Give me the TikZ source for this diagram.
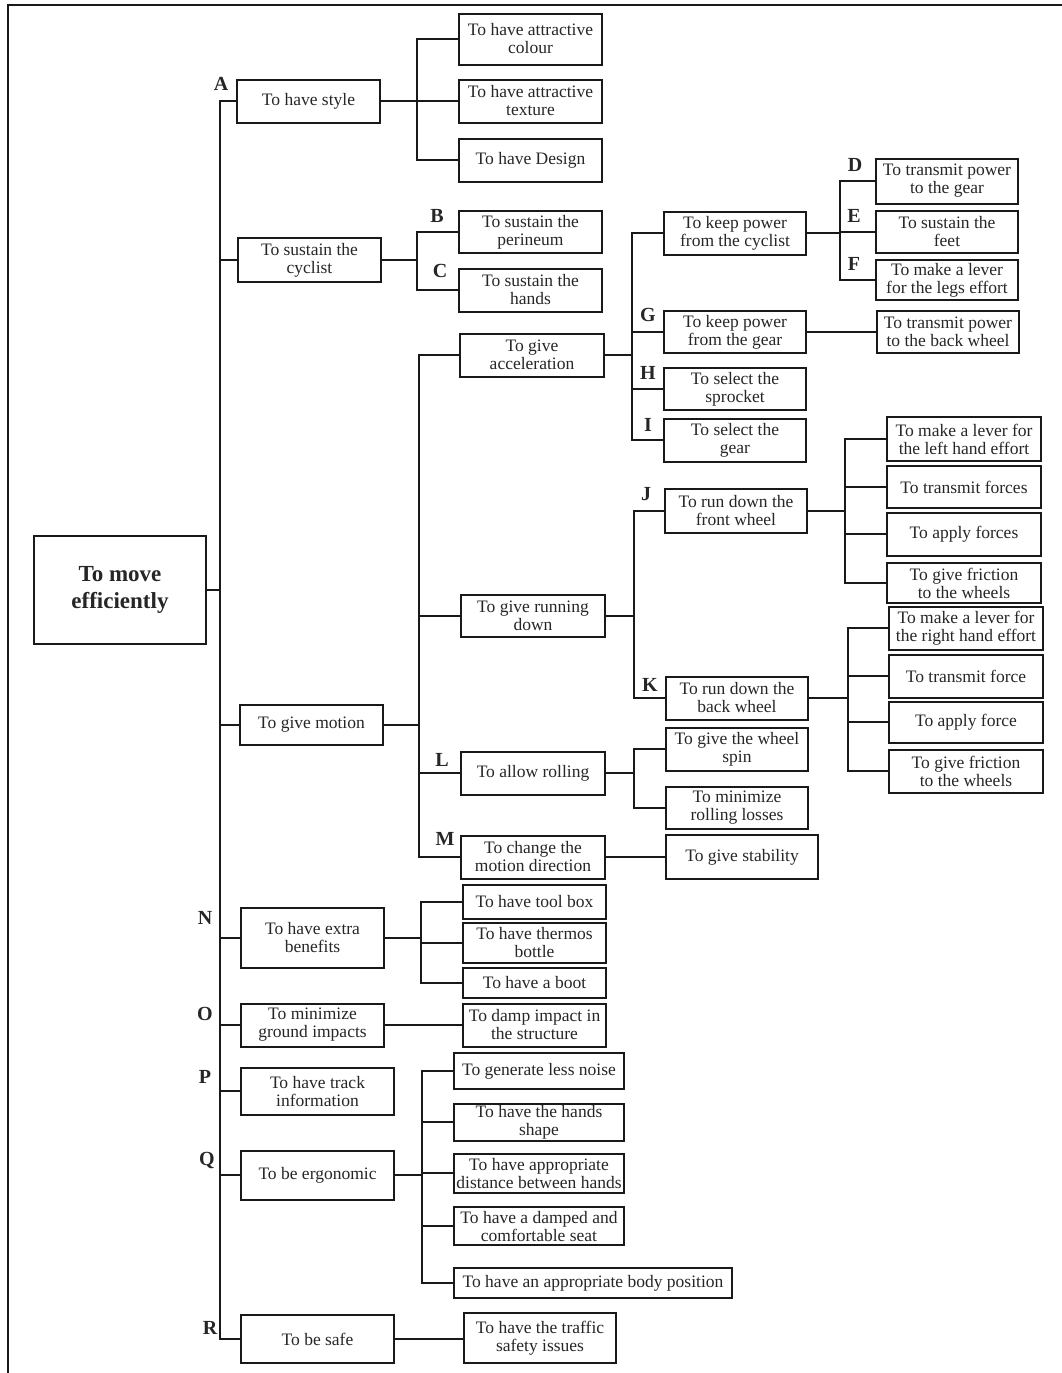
\documentclass[tikz,border=0pt]{standalone}
\usepackage{fontspec}
\setmainfont{Liberation Serif}
\tikzset{
  func/.style={draw=black!90, line width=2pt, align=center, inner sep=0pt,
    minimum width=143pt, minimum height=43pt, text=black!85,
    font=\fontsize{17.5}{18}\selectfont},
  topbox/.style={func, font=\fontsize{23}{27}\selectfont\bfseries},
  letter/.style={inner sep=0pt, text=black!85, font=\fontsize{20}{20}\selectfont\bfseries},
  link/.style={draw=black!90, line width=1.7pt}
}
\begin{document}
\begin{tikzpicture}[x=1pt,y=-1pt]
\useasboundingbox (0,0) rectangle (1062,1373);
% page frame
\draw[line width=2pt, black!90] (8,1373) -- (8,5) -- (1062,5);

% root
\node[topbox, minimum width=172pt, minimum height=108pt] (root) at (120,590) {To move\\efficiently};

% first level
\node[func] (style) at (308.5,101) {To have style};
\node[func, minimum height=44pt] (sustain) at (309.5,260) {To sustain the\\cyclist};
\node[func, minimum height=40pt] (motion) at (311.5,725) {To give motion};
\node[func, minimum height=60pt] (extra) at (312.5,938) {To have extra\\benefits};
\node[func] (ground) at (312.5,1025) {To minimize\\ground impacts};
\node[func, minimum width=153pt, minimum height=47pt] (track) at (317.5,1091) {To have track\\information};
\node[func, minimum width=153pt, minimum height=49pt] (ergo) at (317.5,1175) {To be ergonomic};
\node[func, minimum width=153pt, minimum height=48pt] (safe) at (317.5,1339) {To be safe};

% second level
\node[func, minimum height=51pt] (colour) at (530.5,39) {To have attractive\\colour};
\node[func] (texture) at (530.5,101) {To have attractive\\texture};
\node[func] (design) at (530.5,160) {To have Design};
\node[func, minimum height=42pt] (perineum) at (530.5,232) {To sustain the\\perineum};
\node[func] (hands) at (530.5,290) {To sustain the\\hands};
\node[func, minimum width=144pt] (accel) at (532,355) {To give\\acceleration};
\node[func, minimum width=144pt, minimum height=42pt] (running) at (533,616) {To give running\\down};
\node[func, minimum width=144pt] (rolling) at (533,773) {To allow rolling};
\node[func, minimum width=144pt] (direction) at (533,857) {To change the\\motion direction};
\node[func, minimum height=34pt] (toolbox) at (534.5,902) {To have tool box};
\node[func, minimum height=40pt] (thermos) at (534.5,943) {To have thermos\\bottle};
\node[func, minimum height=30pt] (boot) at (534.5,983) {To have a boot};
\node[func] (damp) at (534.5,1025) {To damp impact in\\the structure};
\node[func, minimum width=170pt, minimum height=36pt] (noise) at (539,1071) {To generate less noise};
\node[func, minimum width=170pt, minimum height=37pt] (shape) at (539,1122) {To have the hands\\shape};
\node[func, minimum width=170pt, minimum height=39pt] (distance) at (539,1173) {To have appropriate\\distance between hands};
\node[func, minimum width=170pt, minimum height=38pt] (seat) at (539,1226) {To have a damped and\\comfortable seat};
\node[func, minimum width=278pt, minimum height=30pt] (body) at (593,1283) {To have an appropriate body position};
\node[func, minimum width=152pt, minimum height=50pt] (traffic) at (540,1338) {To have the traffic\\safety issues};

% third level
\node[func, minimum width=142pt] (cyclist) at (735,233) {To keep power\\from the cyclist};
\node[func, minimum width=142pt, minimum height=42pt] (gear) at (735,332) {To keep power\\from the gear};
\node[func, minimum width=142pt, minimum height=42pt] (sprocket) at (735,389) {To select the\\sprocket};
\node[func, minimum width=142pt] (select) at (735,440) {To select the\\gear};
\node[func, minimum width=142pt, minimum height=44pt] (front) at (736,511) {To run down the\\front wheel};
\node[func, minimum width=142pt] (back) at (737,698) {To run down the\\back wheel};
\node[func, minimum width=142pt] (spin) at (737,749) {To give the wheel\\spin};
\node[func, minimum width=142pt, minimum height=42pt] (losses) at (737,808) {To minimize\\rolling losses};
\node[func, minimum width=152pt, minimum height=44pt] (stability) at (742,857) {To give stability};

% fourth level
\node[func, minimum width=142pt, minimum height=45pt] (powergear) at (947,181) {To transmit power\\to the gear};
\node[func, minimum width=142pt, minimum height=42pt] (feet) at (947,232) {To sustain the\\feet};
\node[func, minimum width=142pt, minimum height=40pt] (legs) at (947,280) {To make a lever\\for the legs effort};
\node[func, minimum width=142pt, minimum height=42pt] (backwheel) at (948,332) {To transmit power\\to the back wheel};
\node[func, minimum width=154pt, minimum height=44pt] (lefthand) at (964,439) {To make a lever for\\the left hand effort};
\node[func, minimum width=154pt, minimum height=42pt] (forcesJ) at (964,487) {To transmit forces};
\node[func, minimum width=154pt] (applyJ) at (964,534) {To apply forces};
\node[func, minimum width=154pt, minimum height=40pt] (frictionJ) at (964,583) {To give friction\\to the wheels};
\node[func, minimum width=154pt] (righthand) at (966,628) {To make a lever for\\the right hand effort};
\node[func, minimum width=154pt] (forceK) at (966,676) {To transmit force};
\node[func, minimum width=154pt, minimum height=41pt] (applyK) at (966,722) {To apply force};
\node[func, minimum width=154pt] (frictionK) at (966,771) {To give friction\\to the wheels};

% branch columns
\coordinate (xM) at (220,0);
\coordinate (xA) at (417,0);
\coordinate (xG) at (419,0);
\coordinate (xC) at (632,0);
\coordinate (xP) at (840,0);
\coordinate (xR) at (634,0);
\coordinate (xJ) at (845,0);
\coordinate (xK) at (848,0);
\coordinate (xN) at (421,0);
\coordinate (xQ) at (422,0);

% root connectors
\draw[link] (root.east) -- (root.east -| xM);
\draw[link] (root.east -| xM) |- (style.west) (root.east -| xM) |- (sustain.west)
	(root.east -| xM) |- (motion.west) (root.east -| xM) |- (extra.west)
	(root.east -| xM) |- (ground.west) (root.east -| xM) |- (track.west)
	(root.east -| xM) |- (ergo.west) (root.east -| xM) |- (safe.west);

% style and sustain
\draw[link] (style.east) -- (texture.west)
	(style.east -| xA) |- (colour.west) (style.east -| xA) |- (design.west);
\draw[link] (sustain.east) -- (sustain.east -| xA) |- (perineum.west)
	(sustain.east -| xA) |- (hands.west);

% motion
\draw[link] (motion.east) -- (motion.east -| xG) |- (accel.west)
	(motion.east -| xG) |- (running.west) (motion.east -| xG) |- (rolling.west)
	(motion.east -| xG) |- (direction.west);
\draw[link] (accel.east) -- (accel.east -| xC) |- (cyclist.west)
	(accel.east -| xC) |- (gear.west) (accel.east -| xC) |- (sprocket.west)
	(accel.east -| xC) |- (select.west);
\draw[link] (cyclist.east) -- (cyclist.east -| xP) |- (powergear.west)
	(cyclist.east -| xP) |- (feet.west) (cyclist.east -| xP) |- (legs.west);
\draw[link] (gear.east) -- (backwheel.west);
\draw[link] (running.east) -- (running.east -| xR) |- (front.west)
	(running.east -| xR) |- (back.west);
\draw[link] (front.east) -- (front.east -| xJ) |- (lefthand.west)
	(front.east -| xJ) |- (forcesJ.west) (front.east -| xJ) |- (applyJ.west)
	(front.east -| xJ) |- (frictionJ.west);
\draw[link] (back.east) -- (back.east -| xK) |- (righthand.west)
	(back.east -| xK) |- (forceK.west) (back.east -| xK) |- (applyK.west)
	(back.east -| xK) |- (frictionK.west);
\draw[link] (rolling.east) -- (rolling.east -| xR) |- (spin.west)
	(rolling.east -| xR) |- (losses.west);
\draw[link] (direction.east) -- (stability.west);

% extras, impacts, ergonomics, safety
\draw[link] (extra.east) -- (extra.east -| xN) |- (toolbox.west)
	(extra.east -| xN) |- (thermos.west) (extra.east -| xN) |- (boot.west);
\draw[link] (ground.east) -- (damp.west);
\draw[link] (ergo.east) -- (ergo.east -| xQ) |- (noise.west)
	(ergo.east -| xQ) |- (shape.west) (ergo.east -| xQ) |- (distance.west)
	(ergo.east -| xQ) |- (seat.west) (ergo.east -| xQ) |- (body.west);
\draw[link] (safe.east) -- (safe.east -| traffic.west);

% letters
\node[letter] (lA) at (221,84) {A};
\node[letter] (lB) at (437,216) {B};
\node[letter] (lC) at (440,271) {C};
\node[letter] (lD) at (855,165) {D};
\node[letter] (lE) at (854,216) {E};
\node[letter] (lF) at (854,264) {F};
\node[letter] (lG) at (648,315) {G};
\node[letter] (lH) at (648,373) {H};
\node[letter] (lI) at (648,425) {I};
\node[letter] (lJ) at (646,494) {J};
\node[letter] (lK) at (650,685) {K};
\node[letter] (lL) at (442,760) {L};
\node[letter] (lM) at (445,839) {M};
\node[letter] (lN) at (205,918) {N};
\node[letter] (lO) at (205,1014) {O};
\node[letter] (lP) at (205,1077) {P};
\node[letter] (lQ) at (207,1160) {Q};
\node[letter] (lR) at (210,1328) {R};

\end{tikzpicture}
\end{document}
